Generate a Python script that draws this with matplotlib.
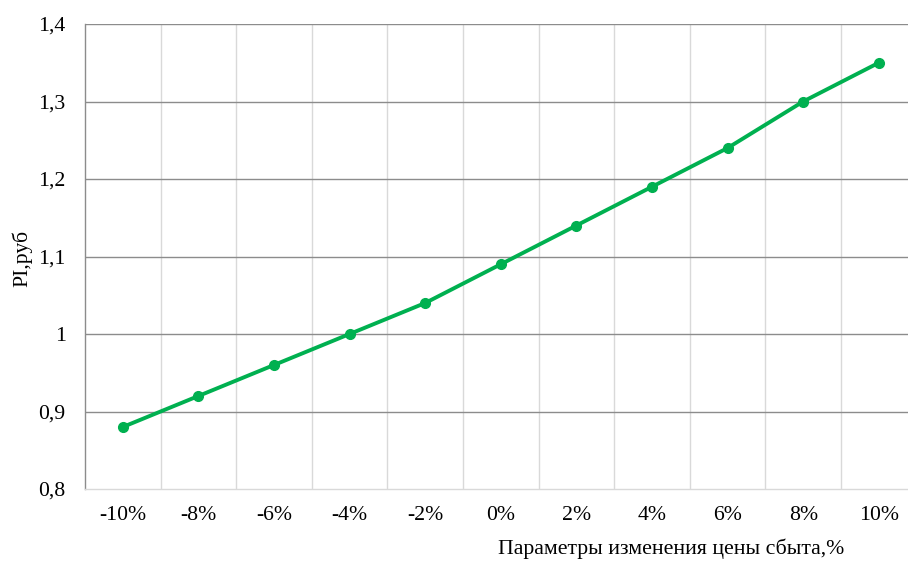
import matplotlib
matplotlib.use("Agg")
import matplotlib.pyplot as plt

categories = ["-10%", "-8%", "-6%", "-4%", "-2%", "0%", "2%", "4%", "6%", "8%", "10%"]
pi_values = [0.88, 0.92, 0.96, 1.00, 1.04, 1.09, 1.14, 1.19, 1.24, 1.30, 1.35]
y_ticks = [0.8, 0.9, 1.0, 1.1, 1.2, 1.3, 1.4]
y_tick_labels = ["0,8", "0,9", "1", "1,1", "1,2", "1,3", "1,4"]

plt.rcParams["font.family"] = ["Liberation Serif", "DejaVu Serif"]
FS = 15.7

W, H = 908, 561
fig = plt.figure(figsize=(W / 100, H / 100), dpi=100)
left, right, top, bottom = 85, 916.6, 24, 489
ax = fig.add_axes([left / W, 1 - bottom / H, (right - left) / W, (bottom - top) / H])

x = list(range(len(categories)))
ax.plot(x, pi_values, color="#00B050", linewidth=2.8, marker="o",
        markersize=7, zorder=3, clip_on=False)

ax.set_xlim(-0.5, len(categories) - 0.5)
ax.set_ylim(0.8, 1.4)

# horizontal grid (value axis)
ax.set_yticks(y_ticks)
ax.set_yticklabels(y_tick_labels)
for yv in y_ticks[1:]:
    ax.axhline(yv, color="#8c8c8c", linewidth=1.0, zorder=1)

# vertical grid between categories
for xv in [i - 0.5 for i in range(1, len(categories) + 1)]:
    ax.axvline(xv, color="#d9d9d9", linewidth=1.0, zorder=0)

ax.set_xticks(x)
ax.set_xticklabels(categories)

for s in ["top", "right"]:
    ax.spines[s].set_visible(False)
ax.spines["left"].set_color("#8c8c8c")
ax.spines["left"].set_linewidth(1.0)
ax.spines["bottom"].set_color("#d9d9d9")
ax.spines["bottom"].set_linewidth(1.0)

ax.tick_params(axis="x", length=0, pad=12, labelsize=FS, colors="#000000")
ax.tick_params(axis="y", length=0, pad=14, labelsize=FS, colors="#000000")

fig.text(671 / W, 1 - 549 / H, "Параметры изменения цены сбыта,%",
         ha="center", va="center", fontsize=FS)
fig.text(22 / W, 1 - 258 / H, "PI,руб", rotation=90,
         ha="center", va="center", fontsize=FS)

fig.savefig("out.png", dpi=100)
